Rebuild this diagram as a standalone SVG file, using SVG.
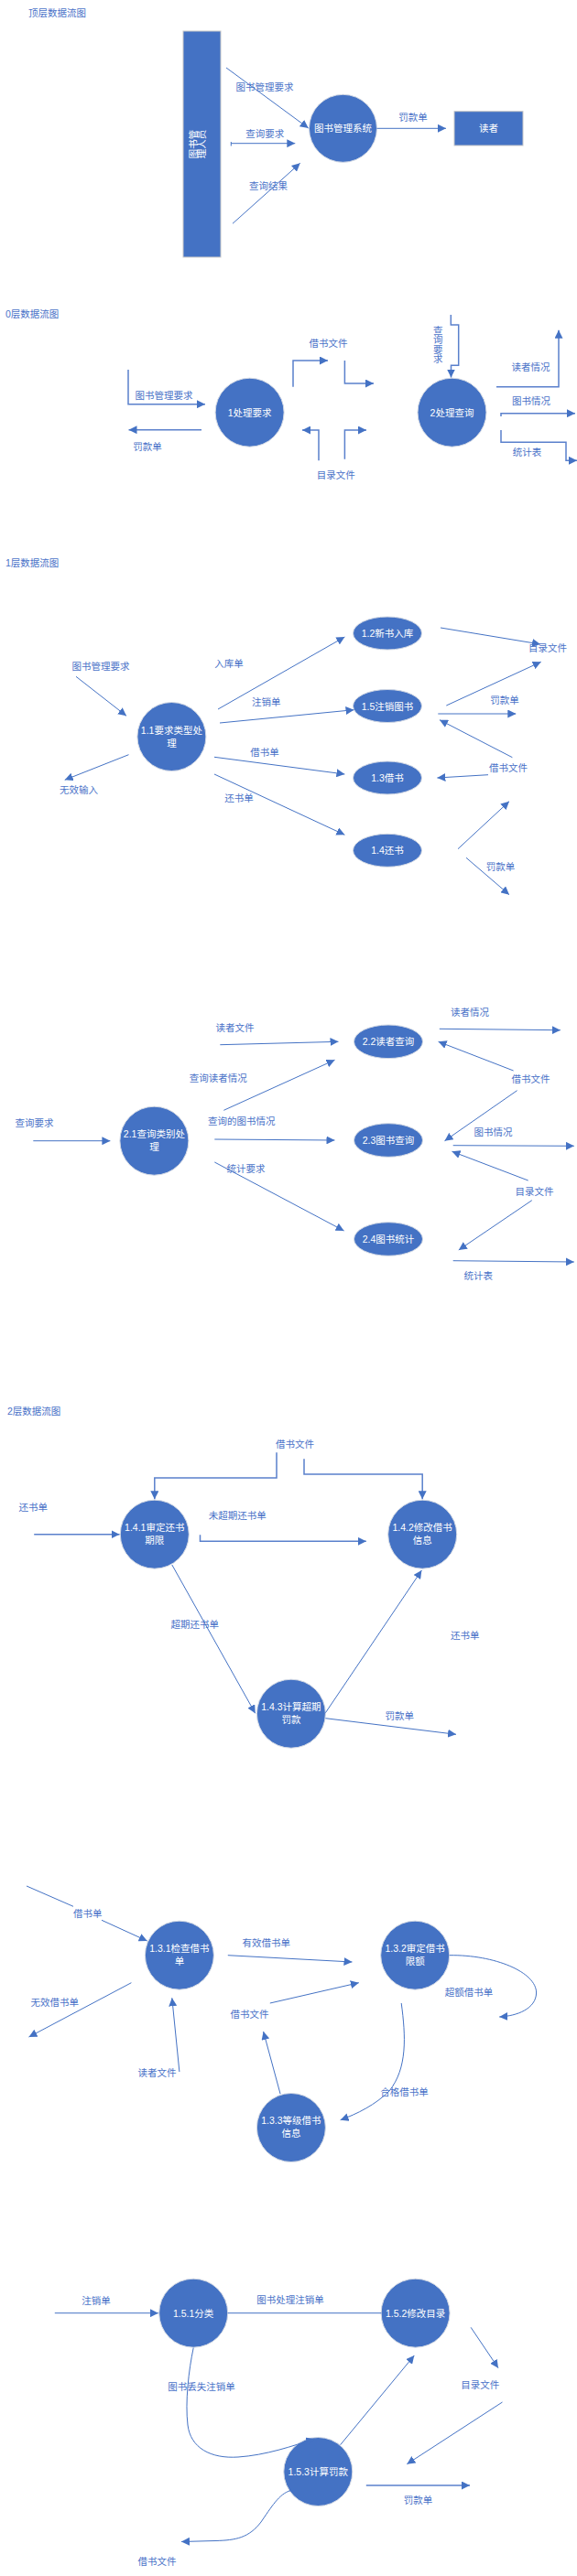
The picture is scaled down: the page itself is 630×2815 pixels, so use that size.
<svg xmlns="http://www.w3.org/2000/svg" width="630" height="2815" viewBox="0 0 630 2815">
<style>
.n{fill:#4472C4;stroke:#D3D9E4;stroke-width:1}
.r{fill:#4472C4;stroke:#C8C8C8;stroke-width:1}
.t{font-family:"Liberation Sans","Noto Sans CJK SC",sans-serif;font-size:10.5px;text-anchor:middle;dominant-baseline:central}
.s{text-anchor:start}
.w{fill:#FFFFFF}
.l{fill:#4A72C8}
.c{fill:none;stroke:#4472C4;stroke-width:1}
.c2{stroke-width:1.5;stroke:#5A80CC}
</style>
<defs>
<marker id="a" viewBox="0 0 10 10" refX="10" refY="5" markerWidth="9" markerHeight="9" markerUnits="userSpaceOnUse" orient="auto"><path d="M0,0 L10,5 L0,10 z" fill="#4472C4"/></marker>
</defs>
<rect width="630" height="2815" fill="#FFFFFF"/>

<!-- ===== Top level ===== -->
<text class="t s l" x="31" y="13.5">顶层数据流图</text>
<g id="ext-admin">
<rect class="r" x="200" y="34" width="41" height="247"/>
<text class="t w" x="210.5" y="157.5" transform="rotate(-90,210.5,157.5)">图书管</text>
<text class="t w" x="219.5" y="157.5" transform="rotate(-90,219.5,157.5)">理人员</text>
</g>
<g id="node-system">
<circle class="n" cx="374.5" cy="140.3" r="37"/>
<text class="t w" x="374.5" y="140.3">图书管理系统</text>
</g>
<g id="ext-reader">
<rect class="r" x="496" y="121.7" width="75" height="37.3"/>
<text class="t w" x="533.5" y="140.3">读者</text>
</g>

<!-- ===== Level 0 ===== -->
<text class="t s l" x="6" y="342.7">0层数据流图</text>
<g id="node-p1">
<circle class="n" cx="272.6" cy="450.7" r="37.5"/>
<text class="t w" x="272.6" y="450.7">1处理要求</text>
</g>
<g id="node-p2">
<circle class="n" cx="493.5" cy="450.7" r="37.5"/>
<text class="t w" x="493.5" y="450.7">2处理查询</text>
</g>

<!-- ===== Level 1 part 1 ===== -->
<text class="t s l" x="6" y="615">1层数据流图</text>
<g id="node-1-1">
<circle class="n" cx="187.4" cy="805" r="37.5"/>
<text class="t w" x="187.4" y="798.3">1.1要求类型处</text>
<text class="t w" x="187.4" y="812.3">理</text>
</g>
<g id="node-1-2">
<ellipse class="n" cx="423" cy="692" rx="37.5" ry="18"/>
<text class="t w" x="423" y="692">1.2新书入库</text>
</g>
<g id="node-1-5">
<ellipse class="n" cx="423" cy="771.5" rx="37.5" ry="18"/>
<text class="t w" x="423" y="771.5">1.5注销图书</text>
</g>
<g id="node-1-3">
<ellipse class="n" cx="423" cy="850" rx="37.5" ry="18"/>
<text class="t w" x="423" y="850">1.3借书</text>
</g>
<g id="node-1-4">
<ellipse class="n" cx="423" cy="929.3" rx="37.5" ry="18"/>
<text class="t w" x="423" y="929.3">1.4还书</text>
</g>

<!-- ===== Level 1 part 2 ===== -->
<g id="node-2-1">
<circle class="n" cx="168.4" cy="1246.7" r="37.5"/>
<text class="t w" x="168.4" y="1239.3">2.1查询类别处</text>
<text class="t w" x="168.4" y="1253">理</text>
</g>
<g id="node-2-2">
<ellipse class="n" cx="424" cy="1138.3" rx="37.5" ry="18.3"/>
<text class="t w" x="424" y="1138.3">2.2读者查询</text>
</g>
<g id="node-2-3">
<ellipse class="n" cx="424" cy="1246" rx="37.5" ry="18.3"/>
<text class="t w" x="424" y="1246">2.3图书查询</text>
</g>
<g id="node-2-4">
<ellipse class="n" cx="424" cy="1354" rx="37.5" ry="18.3"/>
<text class="t w" x="424" y="1354">2.4图书统计</text>
</g>

<!-- ===== Level 2: 1.4 ===== -->
<text class="t s l" x="8" y="1542.3">2层数据流图</text>
<g id="node-1-4-1">
<circle class="n" cx="168.8" cy="1676.7" r="37.5"/>
<text class="t w" x="168.8" y="1669.3">1.4.1审定还书</text>
<text class="t w" x="168.8" y="1683.3">期限</text>
</g>
<g id="node-1-4-2">
<circle class="n" cx="461.2" cy="1676.7" r="37.5"/>
<text class="t w" x="461.2" y="1669.3">1.4.2修改借书</text>
<text class="t w" x="461.2" y="1683.3">信息</text>
</g>
<g id="node-1-4-3">
<circle class="n" cx="317.9" cy="1872.7" r="37.5"/>
<text class="t w" x="317.9" y="1865.3">1.4.3计算超期</text>
<text class="t w" x="317.9" y="1879">罚款</text>
</g>

<!-- ===== Level 2: 1.3 ===== -->
<g id="node-1-3-1">
<circle class="n" cx="195.9" cy="2136.7" r="37.5"/>
<text class="t w" x="195.9" y="2129.3">1.3.1检查借书</text>
<text class="t w" x="195.9" y="2143.3">单</text>
</g>
<g id="node-1-3-2">
<circle class="n" cx="453.2" cy="2136.7" r="37.5"/>
<text class="t w" x="453.2" y="2129.3">1.3.2审定借书</text>
<text class="t w" x="453.2" y="2143.3">限额</text>
</g>
<g id="node-1-3-3">
<circle class="n" cx="317.9" cy="2325" r="37.5"/>
<text class="t w" x="317.9" y="2317.3">1.3.3等级借书</text>
<text class="t w" x="317.9" y="2331">信息</text>
</g>

<!-- ===== Level 2: 1.5 ===== -->
<g id="node-1-5-1">
<circle class="n" cx="211.2" cy="2527.7" r="37.5"/>
<text class="t w" x="211.2" y="2527.7">1.5.1分类</text>
</g>
<g id="node-1-5-2">
<circle class="n" cx="453.6" cy="2527.7" r="37.5"/>
<text class="t w" x="453.6" y="2527.7">1.5.2修改目录</text>
</g>
<g id="node-1-5-3">
<circle class="n" cx="347.3" cy="2701" r="37.5"/>
<text class="t w" x="347.3" y="2701">1.5.3计算罚款</text>
</g>

<!-- ===== Connectors ===== -->
<g id="connectors" class="c" marker-end="url(#a)">
<!-- top -->
<line x1="247" y1="74" x2="336.7" y2="140"/>
<line x1="252.3" y1="156.7" x2="322.3" y2="156.7"/>
<line x1="254" y1="244.3" x2="327.7" y2="178.3"/>
<line x1="411.5" y1="140.3" x2="487" y2="140.3"/>
<!-- level 0 -->
<polyline class="c2" points="140,404 140,441.7 224,441.7"/>
<line class="c2" x1="220" y1="469.7" x2="140.5" y2="469.7"/>
<polyline class="c2" points="320,422.7 320,394 358,394"/>
<polyline class="c2" points="376.4,394 376.4,419 408,419"/>
<polyline class="c2" points="348,503.3 348,470 330,470"/>
<polyline class="c2" points="376.4,501.7 376.4,470 400,470"/>
<polyline class="c2" points="492.3,344 492.3,355 500.7,355 500.7,399.3 492.5,399.3 492.5,412.5"/>
<polyline class="c2" points="542,422.7 610,422.7 610,360.7"/>
<polyline class="c2" points="547,455 547,451.7 628,451.7"/>
<polyline class="c2" points="547,470 547,483.3 618,483.3 618,503.3 630,503.3"/>
<!-- level 1 part 1 -->
<line x1="83" y1="739.3" x2="138" y2="782.3"/>
<line x1="140.5" y1="824.7" x2="70.7" y2="852.3"/>
<line x1="238" y1="775" x2="376.4" y2="696"/>
<line x1="240" y1="790" x2="386.5" y2="775.7"/>
<line x1="234" y1="827.3" x2="376.4" y2="846"/>
<line x1="234" y1="846" x2="376.4" y2="912.3"/>
<line x1="481" y1="686" x2="590" y2="704"/>
<line x1="487.3" y1="771" x2="590.7" y2="723.3"/>
<line x1="478.3" y1="780" x2="563.3" y2="780"/>
<line x1="559.4" y1="827.7" x2="480" y2="786.7"/>
<line x1="533" y1="846.7" x2="477.4" y2="850"/>
<line x1="500" y1="927.7" x2="556" y2="875.7"/>
<line x1="509" y1="937.3" x2="556" y2="977.7"/>
<!-- level 1 part 2 -->
<line x1="36.3" y1="1246.7" x2="120.4" y2="1246.7"/>
<line x1="240.3" y1="1141.7" x2="369.5" y2="1138.3"/>
<line x1="244.3" y1="1213.3" x2="365.5" y2="1158.3"/>
<line x1="234.3" y1="1245" x2="365.5" y2="1246"/>
<line x1="234.3" y1="1270" x2="375.6" y2="1345"/>
<line x1="479.8" y1="1124.3" x2="611.9" y2="1125.7"/>
<line x1="560.6" y1="1170" x2="478.6" y2="1138.3"/>
<line x1="564.6" y1="1191.7" x2="485.5" y2="1246.7"/>
<line x1="494.7" y1="1251.7" x2="626.8" y2="1252.3"/>
<line x1="576.7" y1="1290" x2="493.5" y2="1258.3"/>
<line x1="580.8" y1="1311.7" x2="500.8" y2="1366"/>
<line x1="494.7" y1="1377.7" x2="626.8" y2="1379"/>
<!-- level 2: 1.4 -->
<polyline class="c2" points="302,1587.3 302,1615 168.8,1615 168.8,1638.3"/>
<polyline class="c2" points="332,1594.3 332,1611 461.2,1611 461.2,1638.3"/>
<line class="c2" x1="37.2" y1="1676.7" x2="130.5" y2="1676.7"/>
<polyline class="c2" points="218.5,1677.3 218.5,1684.3 399.8,1684.3"/>
<line x1="187.8" y1="1710" x2="278.7" y2="1872.3"/>
<line x1="355.4" y1="1871.7" x2="460.4" y2="1716"/>
<line x1="355.4" y1="1877.7" x2="498" y2="1895.3"/>
<!-- level 2: 1.3 -->
<line x1="29" y1="2061" x2="80" y2="2083.3" marker-end="none"/>
<line x1="111" y1="2098.3" x2="160.7" y2="2121"/>
<line x1="143.4" y1="2166.7" x2="31.5" y2="2226"/>
<line x1="248.8" y1="2136.7" x2="384.5" y2="2144"/>
<line x1="195.9" y1="2264" x2="187.8" y2="2183.3"/>
<line x1="294.8" y1="2189" x2="391.8" y2="2166.7"/>
<line x1="306.1" y1="2288.3" x2="287.6" y2="2220"/>
<path d="M490.7,2136.7 C540,2136 586,2155 585.6,2178 C585,2195 565,2203 545.2,2204"/>
<path d="M438.2,2189 C443,2225 445,2260 425,2285 C410,2300 390,2310 371.6,2316.7"/>
<!-- level 2: 1.5 -->
<line x1="59.8" y1="2527.7" x2="172.9" y2="2527.7"/>
<line x1="248.7" y1="2527.7" x2="416.1" y2="2527.7" marker-end="none"/>
<path d="M211.2,2565.7 C206,2590 202,2625 205,2650 C208,2675 230,2687 260,2685 C290,2683 320,2673 343.3,2665"/>
<line x1="371.6" y1="2671.7" x2="452.3" y2="2574"/>
<line x1="514.1" y1="2543.3" x2="544" y2="2587.7"/>
<line x1="548.5" y1="2625" x2="444.3" y2="2692.7"/>
<line class="c2" x1="399.8" y1="2716" x2="513" y2="2716"/>
<path d="M317,2721.7 C305,2725 296,2740 285,2756 C272,2773 258,2776 235,2776.5 L198,2777.5"/>
</g>
<line x1="252.3" y1="155" x2="252.3" y2="159.5" stroke="#4472C4" stroke-width="1"/>

<!-- ===== Connector labels ===== -->
<g id="labels" class="t l">
<text x="289" y="95">图书管理要求</text>
<text x="289.3" y="146">查询要求</text>
<text x="293" y="203.3">查询结果</text>
<text x="451" y="127.7">罚款单</text>

<text x="179" y="432.3">图书管理要求</text>
<text x="161" y="488.3">罚款单</text>
<text x="358.6" y="375">借书文件</text>
<text x="366.7" y="519.3">目录文件</text>
<text x="478.3" y="360.5">查</text>
<text x="478.3" y="371">询</text>
<text x="478.3" y="381.5">要</text>
<text x="478.3" y="392">求</text>
<text x="579.6" y="401">读者情况</text>
<text x="580" y="438.3">图书情况</text>
<text x="575.5" y="494">统计表</text>

<text x="110" y="728.3">图书管理要求</text>
<text x="86" y="863.3">无效输入</text>
<text x="250" y="725">入库单</text>
<text x="290.8" y="767.3">注销单</text>
<text x="289" y="822">借书单</text>
<text x="261" y="872">还书单</text>
<text x="598" y="708.3">目录文件</text>
<text x="551" y="765">罚款单</text>
<text x="555" y="839">借书文件</text>
<text x="546.5" y="947.3">罚款单</text>

<text x="37.6" y="1226.7">查询要求</text>
<text x="256.5" y="1122.7">读者文件</text>
<text x="238.3" y="1178">查询读者情况</text>
<text x="263.7" y="1225">查询的图书情况</text>
<text x="268.6" y="1276.7">统计要求</text>
<text x="513" y="1106">读者情况</text>
<text x="579.6" y="1179">借书文件</text>
<text x="538.4" y="1237.3">图书情况</text>
<text x="583.6" y="1302.3">目录文件</text>
<text x="522.2" y="1394.3">统计表</text>

<text x="321.9" y="1578.3">借书文件</text>
<text x="36.3" y="1647.3">还书单</text>
<text x="259.3" y="1656">未超期还书单</text>
<text x="212.8" y="1775">超期还书单</text>
<text x="507.7" y="1787.3">还书单</text>
<text x="436.2" y="1875">罚款单</text>

<text x="95.7" y="2091">借书单</text>
<text x="59.8" y="2187.7">无效借书单</text>
<text x="290.8" y="2122.7">有效借书单</text>
<text x="171.6" y="2265">读者文件</text>
<text x="272.6" y="2201">借书文件</text>
<text x="512.1" y="2176.7">超额借书单</text>
<text x="441.4" y="2286">合格借书单</text>

<text x="105" y="2514.3">注销单</text>
<text x="317" y="2512.7">图书处理注销单</text>
<text x="220" y="2608.3">图书丢失注销单</text>
<text x="524.2" y="2606">目录文件</text>
<text x="456.4" y="2732.3">罚款单</text>
<text x="171.6" y="2799">借书文件</text>
</g>
</svg>
